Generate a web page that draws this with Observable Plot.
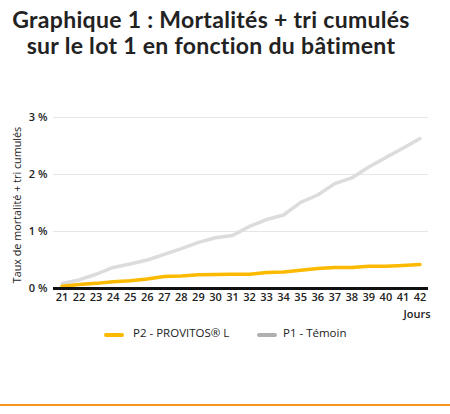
<!DOCTYPE html>
<html><head><meta charset="utf-8">
<script src="https://cdn.jsdelivr.net/npm/d3@7"></script>
<script src="https://cdn.jsdelivr.net/npm/@observablehq/plot@0.6"></script>
<style>
body{margin:0;background:#fff;width:450px;height:414px;overflow:hidden;font-family:"Open Sans",sans-serif;position:relative}
.title{position:absolute;left:0;width:422px;text-align:center;font-family:"Lato";font-weight:700;font-size:23px;line-height:26px;color:#222;letter-spacing:0.3px;white-space:nowrap}
#chart{position:absolute;top:100px;left:0}
#legend{position:absolute;top:325px;left:0;width:450px;font-size:11.5px;color:#222}
.sw{position:absolute;height:4px;width:20px;top:8px;border-radius:2px}
.lab{position:absolute;top:0}
#bottom{position:absolute;left:0;top:404px;width:450px;height:2px;background:#f7941d}
</style></head>
<body>
<div class="title" id="t1" style="top:6px"></div>
<div class="title" id="t2" style="top:32px"></div>
<div id="chart"></div>
<div id="legend"></div>
<div id="bottom"></div>
<script>
const titleLines = ["Graphique 1 : Mortalités + tri cumulés","sur le lot 1 en fonction du bâtiment"];
const days = [21,22,23,24,25,26,27,28,29,30,31,32,33,34,35,36,37,38,39,40,41,42];
const p2Provitos = [0.04,0.07,0.09,0.12,0.135,0.165,0.21,0.22,0.24,0.245,0.25,0.25,0.28,0.29,0.32,0.35,0.37,0.37,0.39,0.39,0.405,0.42];
const p1Temoin = [0.09,0.15,0.25,0.37,0.43,0.50,0.60,0.70,0.81,0.89,0.93,1.09,1.21,1.29,1.51,1.64,1.84,1.94,2.13,2.30,2.46,2.63];
const seriesNames = ["P2 - PROVITOS® L","P1 - Témoin"];
const seriesColors = ["#fbb900","#dcdcdc"];
const legendColors = ["#fbb900","#b0b0b0"];
const yTicks = [0,1,2,3];
const yLabel = "Taux de mortalité + tri cumulés";
const xLabel = "Jours";

document.getElementById("t1").textContent = titleLines[0];
document.getElementById("t2").textContent = titleLines[1];

const rows1 = days.map((d,i)=>({day:d, v:p1Temoin[i], s:seriesNames[1]}));
const rows2 = days.map((d,i)=>({day:d, v:p2Provitos[i], s:seriesNames[0]}));

const chart = Plot.plot({
  width:450, height:225,
  marginLeft:53, marginRight:22, marginTop:17, marginBottom:37,
  style:{fontFamily:"Open Sans", fontSize:"11px", color:"#222"},
  x:{domain:[20.5,42.5], label:null},
  y:{domain:[0,3], label:null},
  marks:[
    Plot.ruleY([1,2,3],{stroke:"#e6e6e6", strokeWidth:1}),
    Plot.line(rows1,{x:"day", y:"v", stroke:seriesColors[1], strokeWidth:3.5}),
    Plot.line(rows2,{x:"day", y:"v", stroke:seriesColors[0], strokeWidth:3.5}),
    Plot.ruleY([0],{stroke:"#111", strokeWidth:3}),
    Plot.axisX({ticks:days, tickFormat:d=>String(d), tickSize:0, tickPadding:5, fontWeight:600, fontSize:11, label:null}),
    Plot.axisY({ticks:yTicks, tickFormat:d=>d+" %", tickSize:0, tickPadding:6, fontWeight:600, fontSize:11, label:null}),
    Plot.text([yLabel],{frameAnchor:"left", textAnchor:"middle", rotate:-90, dx:-36, dy:2, fontSize:10.8, fill:"#222"}),
    Plot.text([xLabel],{frameAnchor:"bottom-right", textAnchor:"end", dx:2, dy:29, fontSize:11, fontWeight:600, fill:"#222"})
  ]
});
document.getElementById("chart").appendChild(chart);

const lg = document.getElementById("legend");
const swX = [104,257], labX = [133,283];
seriesNames.forEach((n,i)=>{
  const s=document.createElement("div"); s.className="sw"; s.style.left=swX[i]+"px"; s.style.background=legendColors[i]; lg.appendChild(s);
  const t=document.createElement("div"); t.className="lab"; t.style.left=labX[i]+"px"; t.textContent=n; lg.appendChild(t);
});
</script>
</body></html>
